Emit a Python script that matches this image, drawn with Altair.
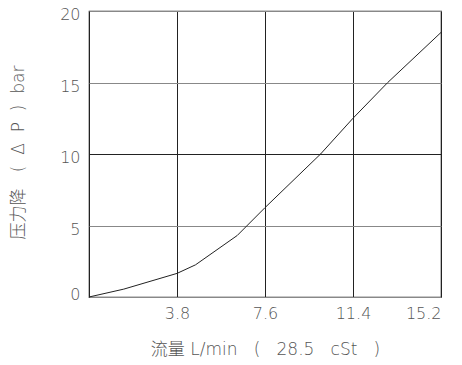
import altair as alt
import pandas as pd

flow = [0, 1.5, 3.8, 4.6, 6.4, 7.6, 10.0, 11.4, 12.9, 15.2]
dp = [0, 0.55, 1.65, 2.25, 4.3, 6.25, 10.0, 12.5, 15.0, 18.5]
x_ticks = [0, 3.8, 7.6, 11.4, 15.2]
y_ticks = [0, 5, 10, 15, 20]

df = pd.DataFrame({"flow": flow, "dp": dp})

FONT = "DejaVu Sans"
TFONT = "DejaVu Sans, 'Noto Sans CJK SC'"
TXT = "#555555"
S = "\u00a0"

x_title = "流量 L/min" + S * 2 + " (" + S * 2 + " 28.5" + S * 2 + " cSt" + S * 2 + " )"
y_title = "压力降" + S * 2 + " (" + S + " Δ" + S + " P" + S + " )" + S + " bar"

line = alt.Chart(df).mark_line(color="#222222", strokeWidth=1).encode(
    x=alt.X("flow:Q", scale=alt.Scale(domain=[0, 15.2], nice=False, zero=True),
            axis=alt.Axis(values=x_ticks, format=".1f",
                          labelExpr="datum.value == 0 ? '' : datum.label",
                          title=x_title,
                          grid=True, gridColor="#222222", gridWidth=1,
                          domain=False, ticks=False, labelPadding=8,
                          titlePadding=20)),
    y=alt.Y("dp:Q", scale=alt.Scale(domain=[0, 20], nice=False),
            axis=alt.Axis(values=y_ticks,
                          title=y_title,
                          grid=True,
                          gridColor=alt.condition("datum.value == 10", alt.value("#222222"), alt.value("#888888")),
                          gridWidth=1.2,
                          labelOffset=alt.condition("datum.value == 0", alt.value(-3), alt.value(3.5)),
                          domain=False, ticks=False, labelPadding=9,
                          titleAngle=-90, titleX=-71, titleY=141,
                          titleBaseline="middle", titleAlign="center")),
)

chart = line.properties(
    width=352, height=286,
    padding={"left": 81, "top": 3, "right": 13, "bottom": 60},
    autosize=alt.AutoSizeParams(type="none"),
).configure_view(
    stroke="#222222", strokeWidth=1.2
).configure_axis(
    labelFont=FONT, titleFont=TFONT, labelColor=TXT, titleColor=TXT,
    labelFontSize=16, titleFontSize=17, labelFontWeight=300, titleFontWeight=300,
)

chart.save("out.html", embed_options={"renderer": "svg", "actions": False})
